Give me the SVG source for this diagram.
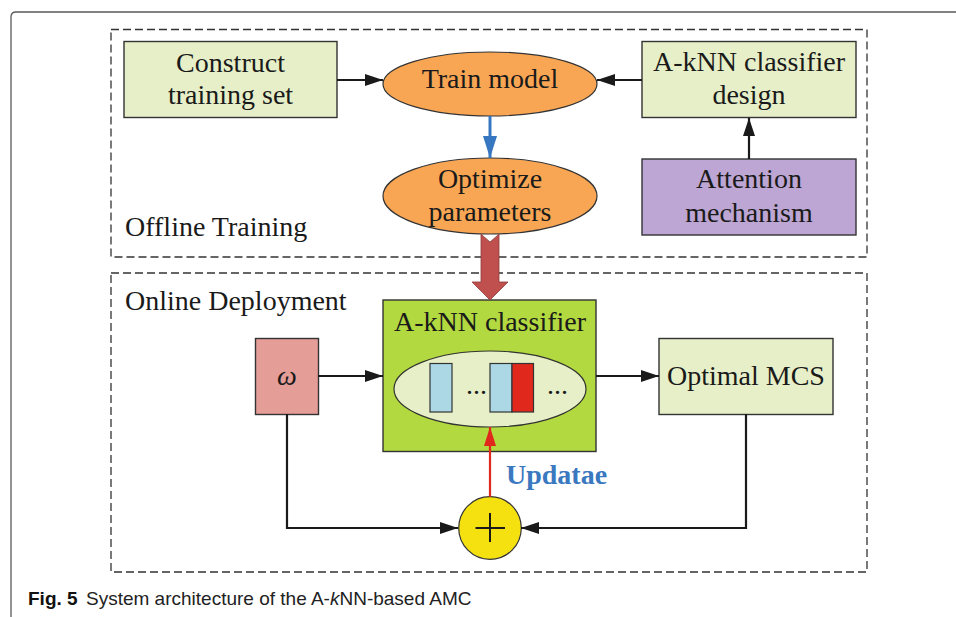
<svg xmlns="http://www.w3.org/2000/svg" width="956" height="617" viewBox="0 0 956 617">
  <defs>
    <style>
      .lbl { font-family: "Liberation Serif", "Times New Roman", serif; font-size: 28px; fill: #1a1a1a; }
      .mid { text-anchor: middle; }
      .box { stroke: #333; stroke-width: 1.4; }
      .pale { fill: #e6efc8; }
      .oval { fill: #f9a654; stroke: #333; stroke-width: 1.2; }
      .frame { fill: none; stroke: #333; stroke-width: 1.3; stroke-dasharray: 8 4; }
      .wire { fill: none; stroke: #1a1a1a; stroke-width: 2.2; }
      .cap { font-family: "Liberation Sans", Arial, sans-serif; font-size: 19px; fill: #222; }
    </style>
    <marker id="headBlack" markerUnits="userSpaceOnUse" markerWidth="18" markerHeight="12" refX="18" refY="6" orient="auto">
      <path d="M0,0 L18,6 L0,12 z" fill="#1a1a1a"/>
    </marker>
    <marker id="headBlue" markerUnits="userSpaceOnUse" markerWidth="22" markerHeight="14" refX="22" refY="7" orient="auto">
      <path d="M0,0 L22,7 L0,14 z" fill="#3777c2"/>
    </marker>
    <marker id="headRed" markerUnits="userSpaceOnUse" markerWidth="19" markerHeight="12" refX="19" refY="6" orient="auto">
      <path d="M0,0 L19,6 L0,12 z" fill="#e0281c"/>
    </marker>
  </defs>

  <rect width="956" height="617" fill="#ffffff"/>

  <!-- page frame around the figure -->
  <path d="M11,617 V17 Q11,12 16,12 H956" fill="none" stroke="#5a5a5a" stroke-width="1.3"/>

  <!-- stage containers -->
  <g id="offline-stage">
    <rect class="frame" x="111" y="29.5" width="756" height="227.5"/>
    <text class="lbl" x="125" y="236">Offline Training</text>
  </g>
  <g id="online-stage">
    <rect class="frame" x="111" y="273" width="756" height="299"/>
    <text class="lbl" x="125" y="310">Online Deployment</text>
  </g>

  <!-- offline nodes -->
  <g id="construct-training-set">
    <rect class="box pale" x="124" y="41.5" width="213" height="76"/>
    <text class="lbl mid" x="230.5" y="72">Construct</text>
    <text class="lbl mid" x="230.5" y="104">training set</text>
  </g>
  <g id="train-model">
    <ellipse class="oval" cx="490" cy="84" rx="107" ry="32"/>
    <text class="lbl mid" x="490" y="88">Train model</text>
  </g>
  <g id="classifier-design">
    <rect class="box pale" x="642" y="41.5" width="214" height="76"/>
    <text class="lbl mid" x="749" y="71">A-kNN classifier</text>
    <text class="lbl mid" x="749" y="104">design</text>
  </g>
  <g id="optimize-parameters">
    <ellipse class="oval" cx="490" cy="196" rx="107" ry="38"/>
    <text class="lbl mid" x="490" y="188">Optimize</text>
    <text class="lbl mid" x="490" y="221">parameters</text>
  </g>
  <g id="attention-mechanism">
    <rect class="box" x="642" y="159" width="214" height="76" fill="#bda6d3"/>
    <text class="lbl mid" x="749" y="188">Attention</text>
    <text class="lbl mid" x="749" y="221.5">mechanism</text>
  </g>

  <!-- online nodes -->
  <g id="omega">
    <rect class="box" x="255.5" y="338.5" width="63" height="76" fill="#e59d98"/>
    <text class="lbl mid" x="287" y="385" font-style="italic">ω</text>
  </g>
  <g id="aknn-classifier">
    <rect class="box" x="383" y="300" width="213" height="151.5" fill="#b2d93f"/>
    <text class="lbl mid" x="490" y="331">A-kNN classifier</text>
    <ellipse cx="490" cy="389" rx="96" ry="38" fill="#e6efc8" stroke="#333" stroke-width="1.2"/>
    <rect x="430" y="363.5" width="22" height="48.5" fill="#acd8e6" stroke="#333" stroke-width="1.2"/>
    <text class="lbl mid" x="476.5" y="394" font-size="22">...</text>
    <rect x="490" y="363.5" width="22" height="48.5" fill="#acd8e6" stroke="#333" stroke-width="1.2"/>
    <rect x="512" y="363.5" width="21.5" height="48.5" fill="#e0281c" stroke="#333" stroke-width="1.2"/>
    <text class="lbl mid" x="557.5" y="394" font-size="22">...</text>
  </g>
  <g id="optimal-mcs">
    <rect class="box pale" x="659" y="338.5" width="174" height="76"/>
    <text class="lbl mid" x="746" y="385">Optimal MCS</text>
  </g>
  <g id="adder">
    <circle cx="490" cy="528" r="31.3" fill="#f5e10f" stroke="#333" stroke-width="1.2"/>
    <path d="M475.5,528 H505 M490,513 V542" stroke="#1a1a1a" stroke-width="2"/>
  </g>

  <!-- connectors -->
  <g id="connectors">
    <polygon points="481,234.2 490,242 499,234.2 499,282 508,282 490,300 472,282 481,282" fill="#c0504d" stroke="#8e3b38" stroke-width="0.8"/>
    <path class="wire" d="M337,80 H383" marker-end="url(#headBlack)"/>
    <path class="wire" d="M642,80 H597" marker-end="url(#headBlack)"/>
    <path class="wire" d="M749,159 V118" marker-end="url(#headBlack)"/>
    <path d="M490,116 V158" fill="none" stroke="#3777c2" stroke-width="3" marker-end="url(#headBlue)"/>
    <path class="wire" d="M318,376 H383" marker-end="url(#headBlack)"/>
    <path class="wire" d="M596,376 H659" marker-end="url(#headBlack)"/>
    <path class="wire" d="M287,414 V528 H458" marker-end="url(#headBlack)"/>
    <path class="wire" d="M746,414 V528 H521" marker-end="url(#headBlack)"/>
    <path d="M490,496.7 V427" fill="none" stroke="#e0281c" stroke-width="2.2" marker-end="url(#headRed)"/>
    <text class="lbl" x="506" y="484" font-weight="bold" style="fill:#3a78c0">Updatae</text>
  </g>

  <!-- caption -->
  <text class="cap" x="28" y="605"><tspan font-weight="bold" fill="#111">Fig. 5</tspan><tspan x="86">System architecture of the A-</tspan><tspan font-style="italic">k</tspan><tspan>NN-based AMC</tspan></text>
</svg>
